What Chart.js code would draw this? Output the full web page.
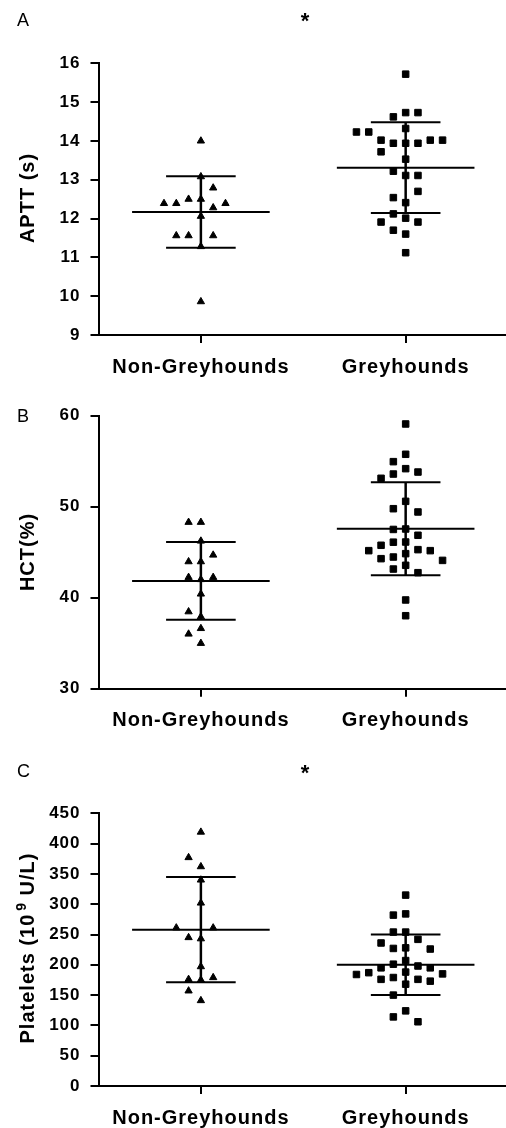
<!DOCTYPE html>
<html>
<head>
<meta charset="utf-8">
<script src="https://cdn.jsdelivr.net/npm/chart.js@4/dist/chart.umd.min.js"></script>
<style>
  body { margin: 0; background: #fff; width: 506px; height: 1128px; position: relative; overflow: hidden; }
  canvas { position: absolute; left: 0; }
</style>
</head>
<body>
<canvas id="panelA" width="506" height="380" style="top:0px"></canvas>
<canvas id="panelB" width="506" height="354" style="top:380px"></canvas>
<canvas id="panelC" width="506" height="394" style="top:734px"></canvas>
<script>
const categories = ['Non-Greyhounds', 'Greyhounds'];

// A - APTT (s)
const apttNon = [14.0, 13.08, 12.5, 12.5, 12.79, 12.28, 12.39, 12.39, 12.39, 12.06, 11.28, 11.56, 11.56, 11.56, 9.86];
const apttGrey = [15.72, 14.73, 14.62, 14.73, 14.32, 13.94, 13.94, 13.94, 14.02, 14.02, 14.23, 14.02, 14.23, 13.53,
  13.72, 13.11, 13.22, 13.11, 12.41, 12.54, 12.70, 12.01, 12.12, 11.91, 11.91, 11.60, 11.70, 11.12];
const apttMean = [12.17, 13.31];
const apttSd = [0.92, 1.17];

// B - HCT (%)
const hctNon = [48.29, 48.29, 46.23, 43.96, 43.96, 44.69, 42.0, 42.24, 42.24, 40.41, 37.91, 38.46, 36.62, 36.01, 34.99];
const hctGrey = [59.09, 55.76, 54.95, 54.18, 53.81, 53.59, 53.12, 50.59, 49.78, 49.42, 47.55, 47.5, 46.86, 46.12,
  46.1, 45.76, 45.28, 45.17, 45.17, 44.84, 44.47, 44.29, 44.1, 43.56, 43.15, 42.75, 39.75, 38.02];
const hctMean = [41.84, 47.58];
const hctSd = [4.27, 5.1];

// C - Platelets (10^9 U/L)
const pltNon = [419, 362, 377, 340, 302, 243, 245, 261, 261, 197, 175, 176, 179, 157, 141];
const pltGrey = [315, 284, 282, 254, 254, 242, 236, 228, 227, 226, 207, 201, 198, 195, 195, 188, 187, 185, 184,
  179, 176, 176, 173, 168, 150, 124, 114, 106];
const pltMean = [258, 200];
const pltSd = [87, 50];

const FONT = '"Liberation Sans", Arial, sans-serif';
const SLOT_PX = 12.3;   // horizontal step between points sharing a row
const GAP_PX = 11.5;    // vertical distance under which two points collide
const MEAN_HALF = 0.336, CAP_HALF = 0.17;

function pointSet(values, group) {
  return {
    values: values, group: group,
    data: values.map(v => ({ x: group, y: v })),
    pointStyle: group === 0 ? 'triangle' : 'rect',
    pointRadius: group === 0 ? 4.2 : 4.6,
    pointBorderWidth: 1,
    backgroundColor: '#000', borderColor: '#000',
    showLine: false, clip: false
  };
}

function barSets(mean, sd) {
  const out = [];
  mean.forEach((m, i) => {
    const segs = [
      [i - MEAN_HALF, m, i + MEAN_HALF, m, 2],
      [i - CAP_HALF, m + sd[i], i + CAP_HALF, m + sd[i], 2],
      [i - CAP_HALF, m - sd[i], i + CAP_HALF, m - sd[i], 2],
      [i, m - sd[i], i, m + sd[i], 2.5]
    ];
    segs.forEach(s => out.push({
      data: [{ x: s[0], y: s[1] }, { x: s[2], y: s[3] }],
      showLine: true, borderColor: '#000', borderWidth: s[4],
      pointRadius: 0, clip: false
    }));
  });
  return out;
}

// spread the points of each group sideways so they do not overlap
function swarm(chart) {
  const xs = chart.scales.x, ys = chart.scales.y;
  const unit = xs.getPixelForValue(1) - xs.getPixelForValue(0);
  chart.data.datasets.forEach(ds => {
    if (!ds.values) return;
    const placed = [];
    ds.data = ds.values.map(v => {
      const py = ys.getPixelForValue(v);
      let k = 0, slot = 0;
      while (true) {
        slot = k === 0 ? 0 : (k % 2 ? -(k + 1) / 2 : k / 2);
        if (!placed.some(p => p.slot === slot && Math.abs(p.py - py) < GAP_PX)) break;
        k++;
      }
      placed.push({ slot: slot, py: py });
      return { x: ds.group + slot * SLOT_PX / unit, y: v };
    });
  });
  chart.update('none');
}

function textPlugin(p) {
  return {
    id: 'panelText',
    beforeDraw(chart) { chart.ctx.letterSpacing = '1px'; },
    afterDraw(chart) {
      const ctx = chart.ctx;
      ctx.save();
      ctx.fillStyle = '#000';
      ctx.textBaseline = 'alphabetic';
      ctx.letterSpacing = '0px';
      ctx.font = '18px ' + FONT;
      ctx.textAlign = 'left';
      ctx.fillText(p.letter, 17, p.letterY);
      if (p.starY) {
        ctx.font = 'bold 22px ' + FONT;
        ctx.textAlign = 'center';
        ctx.fillText('*', 305, p.starY);
      }
      // rotated axis title
      ctx.letterSpacing = '1px';
      ctx.translate(34, p.titleY);
      ctx.rotate(-Math.PI / 2);
      ctx.textAlign = 'left';
      let total = 0;
      p.title.forEach(part => {
        ctx.font = 'bold ' + part.size + 'px ' + FONT;
        total += ctx.measureText(part.t).width + (part.gap || 0);
      });
      let x = -total / 2;
      p.title.forEach(part => {
        ctx.font = 'bold ' + part.size + 'px ' + FONT;
        x += part.gap || 0;
        ctx.fillText(part.t, x, -(part.rise || 0));
        x += ctx.measureText(part.t).width;
      });
      ctx.restore();
    }
  };
}

function makePanel(id, p) {
  const chart = new Chart(document.getElementById(id), {
    type: 'scatter',
    data: {
      datasets: [pointSet(p.non, 0), pointSet(p.grey, 1)].concat(barSets(p.mean, p.sd))
    },
    options: {
      responsive: false,
      animation: false,
      events: [],
      layout: { autoPadding: false, padding: { top: p.top, left: 0, right: 0, bottom: 0 } },
      plugins: { legend: { display: false }, tooltip: { enabled: false } },
      scales: {
        x: {
          type: 'linear', min: -0.5, max: 1.49,
          afterBuildTicks: s => { s.ticks = [{ value: 0 }, { value: 1 }]; },
          afterFit: s => { s.height = p.xh; },
          grid: { drawOnChartArea: false, color: '#000', lineWidth: 2, tickLength: 8 },
          border: { color: '#000', width: 2 },
          ticks: {
            callback: v => categories[v], autoSkip: false, maxRotation: 0,
            color: '#000', padding: 12, font: { family: FONT, size: 20, weight: 'bold' }
          }
        },
        y: {
          min: p.min, max: p.max,
          afterFit: s => { s.width = 98.5; },
          grid: { drawOnChartArea: false, color: '#000', lineWidth: 2, tickLength: 8 },
          border: { color: '#000', width: 2 },
          ticks: {
            stepSize: p.step, color: '#000', padding: 10,
            font: { family: FONT, size: 17, weight: 'bold' }
          }
        }
      }
    },
    plugins: [textPlugin(p)]
  });
  swarm(chart);
  return chart;
}

makePanel('panelA', {
  non: apttNon, grey: apttGrey, mean: apttMean, sd: apttSd,
  min: 9, max: 16, step: 1, top: 63.3, xh: 45,
  letter: 'A', letterY: 26, starY: 28, titleY: 198,
  title: [{ t: 'APTT (s)', size: 20 }]
});

makePanel('panelB', {
  non: hctNon, grey: hctGrey, mean: hctMean, sd: hctSd,
  min: 30, max: 60, step: 10, top: 35.7, xh: 45.3,
  letter: 'B', letterY: 42, titleY: 172,
  title: [{ t: 'HCT(%)', size: 20 }]
});

makePanel('panelC', {
  non: pltNon, grey: pltGrey, mean: pltMean, sd: pltSd,
  min: 0, max: 450, step: 50, top: 79.3, xh: 42,
  letter: 'C', letterY: 43, starY: 46, titleY: 214,
  title: [{ t: 'Platelets (10', size: 20 }, { t: '9', size: 14, rise: 8, gap: 3 }, { t: ' U/L)', size: 20 }]
});
</script>
</body>
</html>
